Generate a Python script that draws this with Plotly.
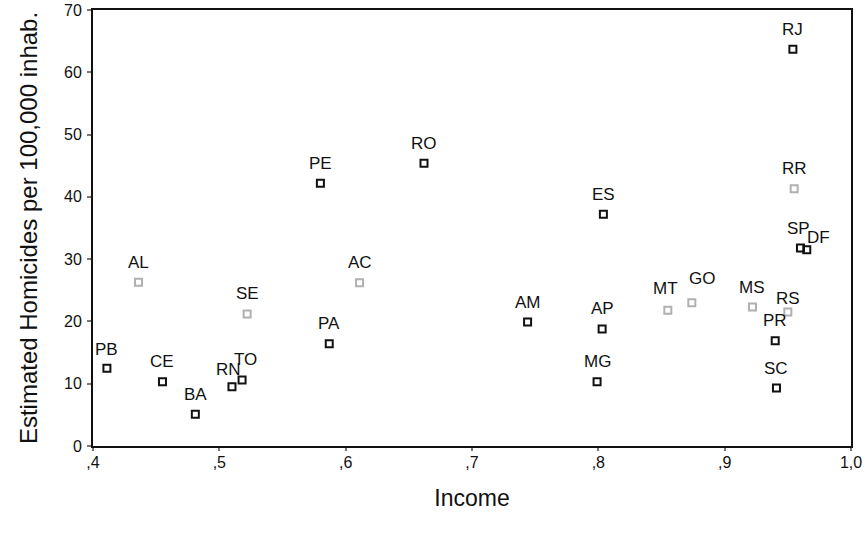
import plotly.graph_objects as go

# Data
states = ["PB", "AL", "CE", "BA", "RN", "TO", "SE", "PE", "PA", "AC", "RO",
          "AM", "ES", "AP", "MG", "MT", "GO", "MS", "RJ", "RR", "SP", "DF",
          "RS", "PR", "SC"]
income = [0.411, 0.436, 0.455, 0.481, 0.510, 0.518, 0.522, 0.580, 0.587, 0.611, 0.662,
          0.744, 0.804, 0.803, 0.799, 0.855, 0.874, 0.922, 0.954, 0.955, 0.960, 0.965,
          0.950, 0.940, 0.941]
homicides = [12.5, 26.3, 10.3, 5.1, 9.5, 10.6, 21.2, 42.2, 16.4, 26.2, 45.4,
             19.9, 37.2, 18.8, 10.3, 21.8, 23.0, 22.3, 63.7, 41.3, 31.8, 31.5,
             21.5, 16.9, 9.3]

x_tickvals = [0.4, 0.5, 0.6, 0.7, 0.8, 0.9, 1.0]
x_ticktext = [",4", ",5", ",6", ",7", ",8", ",9", "1,0"]
y_tickvals = [0, 10, 20, 30, 40, 50, 60, 70]

# scan-faded markers (style only)
faint = {"AL", "SE", "AC", "MT", "GO", "MS", "RR", "RS"}
label_shift = {"RN": (-3, 17), "TO": (3, 20), "MT": (-2, 22), "GO": (10, 24),
               "SP": (-2, 19), "DF": (12, 12), "RS": (0, 14), "PB": (0, 19)}

FONT = "Liberation Sans, Arial, sans-serif"

marker_colors = ["#b0b0b0" if s in faint else "#111111" for s in states]

fig = go.Figure()
fig.add_trace(go.Scatter(
    x=income, y=homicides, mode="markers",
    marker=dict(symbol="square-open", size=7, color=marker_colors,
                line=dict(width=2, color=marker_colors)),
    hoverinfo="text", text=states, showlegend=False, cliponaxis=False,
))

annotations = []
for s, xv, yv in zip(states, income, homicides):
    dx, dy = label_shift.get(s, (0, 20))
    annotations.append(dict(x=xv, y=yv, xref="x", yref="y", text=s,
                            showarrow=False, xshift=dx, yshift=dy,
                            font=dict(family=FONT, size=17, color="#111111")))

fig.update_layout(
    width=867, height=543,
    margin=dict(l=93, r=16, t=10, b=97),
    paper_bgcolor="white", plot_bgcolor="white",
    font=dict(family=FONT, size=16, color="#111111"),
    annotations=annotations,
    xaxis=dict(range=[0.4, 1.0], tickvals=x_tickvals, ticktext=x_ticktext,
               automargin=False,
               showgrid=False, zeroline=False, showline=True, linewidth=2,
               linecolor="#111111", mirror=True, ticks="outside", ticklen=3,
               tickwidth=2, tickcolor="#777777", ticklabelstandoff=-2,
               tickfont=dict(family=FONT, size=16, color="#111111"),
               title=dict(text="Income", standoff=20,
                          font=dict(family=FONT, size=23, color="#111111"))),
    yaxis=dict(range=[0, 70], tickvals=y_tickvals,
               automargin=False,
               showgrid=False, zeroline=False, showline=True, linewidth=2,
               linecolor="#111111", mirror=True, ticks="outside", ticklen=4,
               tickwidth=2, tickcolor="#777777", ticklabelstandoff=2,
               tickfont=dict(family=FONT, size=16, color="#111111"),
               title=dict(text="Estimated Homicides per 100,000 inhab.", standoff=20,
                          font=dict(family=FONT, size=24, color="#111111"))),
)

# remove the browser's default 8px body margin so the figure fills the window
fig.write_html("out.html",
               config={"displayModeBar": False},
               post_script="document.body.style.margin='0';document.body.style.overflow='hidden';")
